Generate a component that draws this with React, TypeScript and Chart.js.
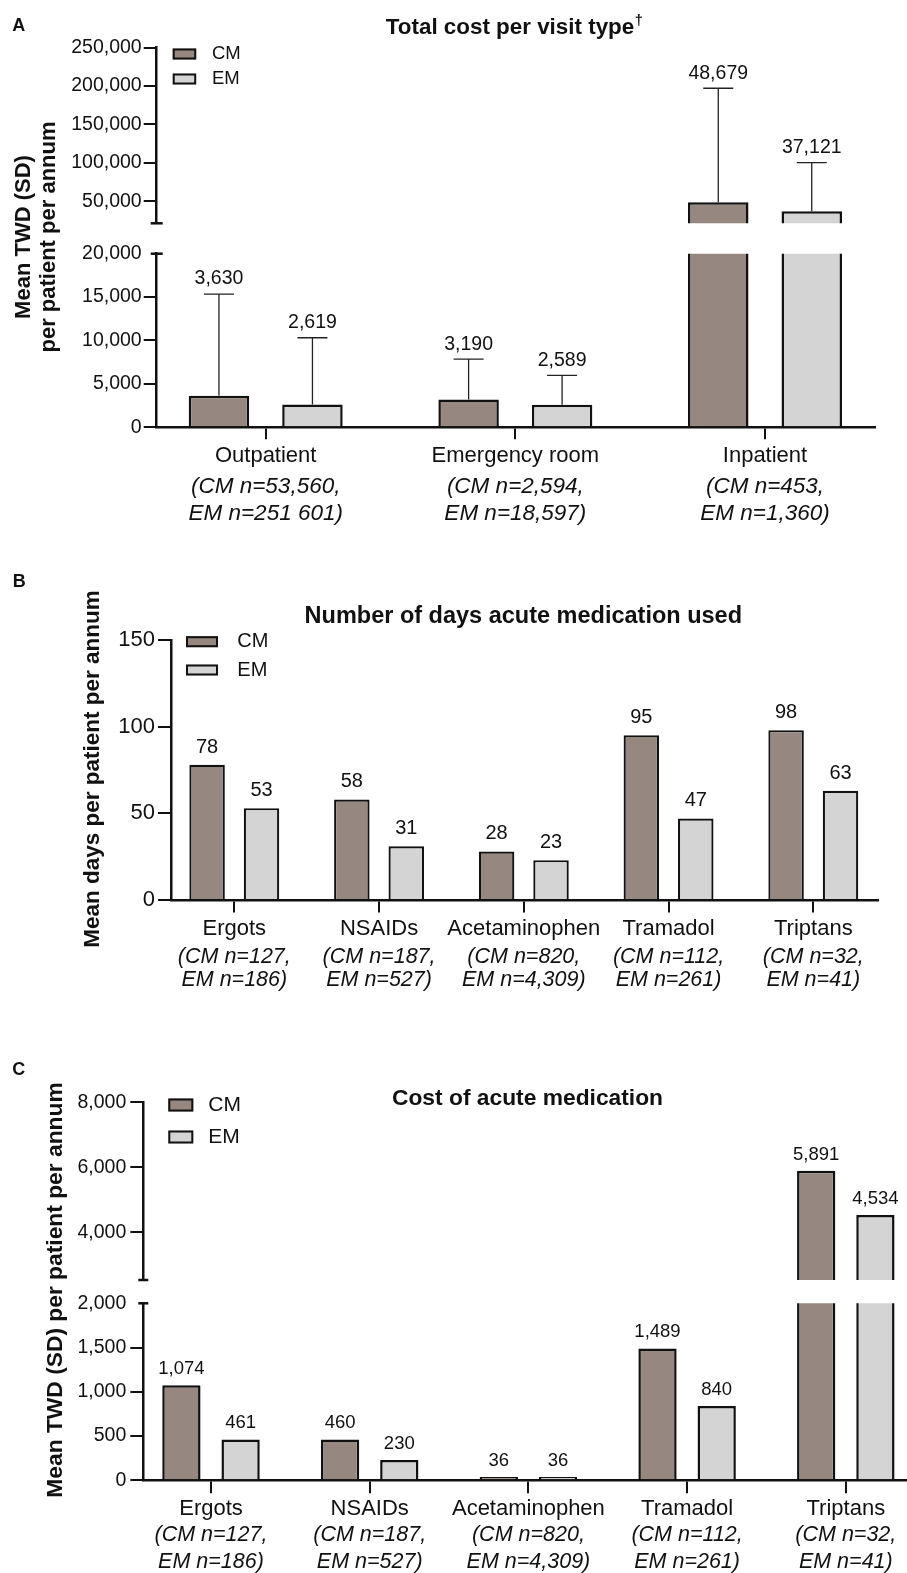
import React, { useEffect, useRef } from 'react';
import { Chart, registerables } from 'chart.js';

Chart.register(...registerables);

const FONT = "'Liberation Sans', Arial, Helvetica, sans-serif";
Chart.defaults.font.family = FONT;
Chart.defaults.color = '#111111';

const W = 907;
const H = 1573;
const INK = '#111111';
const CM_COLOR = '#968880';
const EM_COLOR = '#d4d4d4';

// ---------------- data ----------------
const seriesNames = ['CM', 'EM'];

// Panel A: total cost per visit type
const visitTypes = ['Outpatient', 'Emergency room', 'Inpatient'];
const visitN = [
  ['(CM n=53,560,', 'EM n=251 601)'],
  ['(CM n=2,594,', 'EM n=18,597)'],
  ['(CM n=453,', 'EM n=1,360)'],
];
const visitCostCM = [3630, 3190, 48679];
const visitCostEM = [2619, 2589, 37121];
const visitCostSdCM = [11720, 4660, 148500];
const visitCostSdEM = [7700, 3400, 63200];
const visitTicksLow = [0, 5000, 10000, 15000, 20000];
const visitTicksHigh = [50000, 100000, 150000, 200000, 250000];
const visitLowMax = 20000;
const visitHighRange = [21350, 250000];

// Panel B: number of days acute medication used
const medTypes = ['Ergots', 'NSAIDs', 'Acetaminophen', 'Tramadol', 'Triptans'];
const medN = [
  ['(CM n=127,', 'EM n=186)'],
  ['(CM n=187,', 'EM n=527)'],
  ['(CM n=820,', 'EM n=4,309)'],
  ['(CM n=112,', 'EM n=261)'],
  ['(CM n=32,', 'EM n=41)'],
];
const medDaysCM = [78, 58, 28, 95, 98];
const medDaysEM = [53, 31, 23, 47, 63];
const medDaysTicks = [0, 50, 100, 150];

// Panel C: cost of acute medication
const medCostCM = [1074, 460, 36, 1489, 5891];
const medCostEM = [461, 230, 36, 840, 4534];
const medCostTicksLow = [0, 500, 1000, 1500, 2000];
const medCostTicksHigh = [4000, 6000, 8000];
const medCostLowMax = 2000;
const medCostHighRange = [2530, 8000];

// ---------------- types ----------------
type Area = { l: number; r: number; t: number; b: number };
type TextItem = { text: string; x: number; y: number; size: number; bold?: boolean; rotate?: boolean; align?: CanvasTextAlign; sup?: string };
type Legend = { x: number; w: number; h: number; textX: number; ys: number[]; font: number };
type Decor = {
  errCap?: number;
  labelFont: number;
  labelOffset: number;
  capTop?: boolean;
  capBottom?: boolean;
  capHalf?: number;
  legend?: Legend;
  texts?: TextItem[];
};
type XSpec = {
  min: number; max: number; cats: string[]; n: string[][]; show: boolean;
  tl: number; pad: number; font: number; nFont: number; nLine: number; h1: number; h2: number;
};
type ChartSpec = {
  area: Area;
  yMin: number; yMax: number; yTicks: number[]; yFont: number; yPad: number;
  x: XSpec;
  cm: number[]; em: number[]; cmSd?: number[]; emSd?: number[];
  border: number; cp: number; bp: number;
  decor: Decor;
};

const fmt = (v: number) => v.toLocaleString('en-US');

function makeDecor(s: ChartSpec) {
  return {
    id: 'decor',
    afterDatasetsDraw(chart: any) {
      const ctx: CanvasRenderingContext2D = chart.ctx;
      const a = chart.chartArea;
      const ys = chart.scales.y;
      const d = s.decor;
      const vals = [s.cm, s.em];
      const sds = [s.cmSd, s.emSd];
      // error bars (upper side only)
      ctx.save();
      ctx.beginPath();
      ctx.rect(a.left, a.top - 1, a.right - a.left, a.bottom - a.top + 2);
      ctx.clip();
      ctx.strokeStyle = '#222222';
      ctx.lineWidth = 1.3;
      vals.forEach((arr, i) => {
        const sd = sds[i];
        if (!sd) return;
        const meta = chart.getDatasetMeta(i);
        meta.data.forEach((el: any, j: number) => {
          const py = ys.getPixelForValue(arr[j] + sd[j]);
          const cap = d.errCap || 15;
          ctx.beginPath();
          ctx.moveTo(el.x, el.y);
          ctx.lineTo(el.x, py);
          ctx.moveTo(el.x - cap, py);
          ctx.lineTo(el.x + cap, py);
          ctx.stroke();
        });
      });
      ctx.restore();
      // value labels
      ctx.save();
      ctx.fillStyle = INK;
      ctx.font = `${d.labelFont}px ${FONT}`;
      ctx.textAlign = 'center';
      ctx.textBaseline = 'middle';
      vals.forEach((arr, i) => {
        const sd = sds[i];
        const meta = chart.getDatasetMeta(i);
        meta.data.forEach((el: any, j: number) => {
          const anchor = ys.getPixelForValue(sd ? arr[j] + sd[j] : arr[j]);
          if (anchor < a.top - 2 || anchor > a.bottom + 2) return;
          ctx.fillText(fmt(arr[j]), el.x, anchor - d.labelOffset);
        });
      });
      ctx.restore();
    },
    afterDraw(chart: any) {
      const ctx: CanvasRenderingContext2D = chart.ctx;
      const a = chart.chartArea;
      const d = s.decor;
      ctx.save();
      ctx.strokeStyle = INK;
      ctx.lineWidth = 2.5;
      const ch = d.capHalf || 6;
      if (d.capTop) {
        ctx.beginPath();
        ctx.moveTo(a.left - ch, a.top);
        ctx.lineTo(a.left + ch, a.top);
        ctx.stroke();
      }
      if (d.capBottom) {
        ctx.beginPath();
        ctx.moveTo(a.left - ch, a.bottom);
        ctx.lineTo(a.left + ch, a.bottom);
        ctx.stroke();
      }
      ctx.restore();
      if (d.legend) {
        const L = d.legend;
        chart.data.datasets.forEach((ds: any, i: number) => {
          const cy = L.ys[i];
          ctx.save();
          ctx.fillStyle = ds.backgroundColor;
          ctx.fillRect(L.x, cy - L.h / 2, L.w, L.h);
          ctx.strokeStyle = INK;
          ctx.lineWidth = 2;
          ctx.strokeRect(L.x + 1, cy - L.h / 2 + 1, L.w - 2, L.h - 2);
          ctx.fillStyle = INK;
          ctx.font = `${L.font}px ${FONT}`;
          ctx.textAlign = 'left';
          ctx.textBaseline = 'middle';
          ctx.fillText(ds.label, L.textX, cy);
          ctx.restore();
        });
      }
      (d.texts || []).forEach((t) => {
        ctx.save();
        ctx.font = `${t.bold ? 'bold ' : ''}${t.size}px ${FONT}`;
        ctx.fillStyle = INK;
        ctx.textAlign = t.align || 'center';
        ctx.textBaseline = 'middle';
        ctx.translate(t.x, t.y);
        if (t.rotate) ctx.rotate(-Math.PI / 2);
        ctx.fillText(t.text, 0, 0);
        if (t.sup) {
          const w = ctx.measureText(t.text).width;
          ctx.font = `bold ${t.size * 0.65}px ${FONT}`;
          ctx.textAlign = 'left';
          ctx.fillText(t.sup, w / 2 + 0.5, -t.size * 0.33);
        }
        ctx.restore();
      });
    },
  };
}

function buildConfig(s: ChartSpec): any {
  const showX = s.x.show;
  const padBottom = showX ? H - s.area.b - s.x.h1 - s.x.h2 : H - s.area.b;
  const xTicks = (sc: any) => {
    sc.ticks = s.x.cats.map((_, i) => ({ value: i }));
  };
  const scales: any = {
    x: {
      type: 'linear',
      display: showX,
      position: 'bottom',
      weight: 0,
      min: s.x.min,
      max: s.x.max,
      bounds: 'data',
      offset: false,
      afterBuildTicks: xTicks,
      afterFit: (sc: any) => { sc.height = showX ? s.x.h1 : 0; },
      grid: { display: true, drawOnChartArea: false, drawTicks: true, tickLength: s.x.tl, color: INK, lineWidth: 2, offset: false },
      border: { display: true, color: INK, width: 2.5 },
      ticks: {
        autoSkip: false, maxRotation: 0, minRotation: 0, padding: s.x.pad, color: INK,
        font: { size: s.x.font, lineHeight: 1.2 },
        callback: (v: any) => s.x.cats[v] ?? '',
      },
    },
    y: {
      type: 'linear',
      position: 'left',
      min: s.yMin,
      max: s.yMax,
      bounds: 'data',
      afterBuildTicks: (sc: any) => { sc.ticks = s.yTicks.map((v) => ({ value: v })); },
      afterFit: (sc: any) => { sc.width = s.area.l; },
      grid: {
        display: true, drawOnChartArea: false, drawTicks: true, tickLength: 13, color: INK, lineWidth: 2,
        tickColor: (c: any) => (s.decor.capTop && c.tick && c.tick.value === s.yMax ? 'rgba(0,0,0,0)' : INK),
      },
      border: { display: true, color: INK, width: 2.5 },
      ticks: { padding: s.yPad, color: INK, font: { size: s.yFont }, callback: (v: any) => fmt(Number(v)) },
    },
  };
  if (showX) {
    scales.x2 = {
      type: 'linear',
      axis: 'x',
      position: 'bottom',
      weight: 1,
      min: s.x.min,
      max: s.x.max,
      bounds: 'data',
      offset: false,
      afterBuildTicks: xTicks,
      afterFit: (sc: any) => { sc.height = s.x.h2; },
      grid: { display: false, drawTicks: false, tickLength: 0, offset: false },
      border: { display: false },
      ticks: {
        autoSkip: false, maxRotation: 0, minRotation: 0, padding: 0, color: INK,
        font: { size: s.x.nFont, style: 'italic', lineHeight: s.x.nLine / s.x.nFont },
        callback: (v: any) => s.x.n[v] ?? '',
      },
    };
  }
  const mk = (label: string, vals: number[], color: string) => ({
    label,
    data: vals.map((v, i) => ({ x: i, y: v })),
    backgroundColor: color,
    borderColor: INK,
    borderWidth: s.border,
    categoryPercentage: s.cp,
    barPercentage: s.bp,
    clip: 0,
  });
  return {
    type: 'bar',
    data: {
      datasets: [mk(seriesNames[0], s.cm, CM_COLOR), mk(seriesNames[1], s.em, EM_COLOR)],
    },
    options: {
      responsive: false,
      animation: false,
      devicePixelRatio: 1,
      events: [],
      layout: { padding: { left: 0, right: W - s.area.r, top: s.area.t, bottom: padBottom } },
      plugins: { legend: { display: false }, tooltip: { enabled: false }, title: { display: false } },
      scales,
    },
    plugins: [makeDecor(s)],
  };
}

// ---------------- chart specs ----------------
const xA = (show: boolean): XSpec => ({
  min: -0.4366, max: 2.4406, cats: visitTypes, n: visitN, show,
  tl: 12, pad: 3.5, font: 22, nFont: 22.5, nLine: 27.3, h1: 45.75, h2: 60,
});
const xC = (show: boolean): XSpec => ({
  min: -0.4266, max: 4.3856, cats: medTypes, n: medN, show,
  tl: 13, pad: 2.8, font: 22, nFont: 21.5, nLine: 26.8, h1: 41.8, h2: 50.9,
});

const specs: ChartSpec[] = [
  // A lower
  {
    area: { l: 156.7, r: 875, t: 253.7, b: 427.3 },
    yMin: 0, yMax: visitLowMax, yTicks: visitTicksLow, yFont: 19.5, yPad: 2,
    x: xA(true),
    cm: visitCostCM, em: visitCostEM, cmSd: visitCostSdCM, emSd: visitCostSdEM,
    border: 2.5, cp: 0.749, bp: 0.647,
    decor: {
      errCap: 15, labelFont: 19.5, labelOffset: 15, capTop: true, capHalf: 6,
      texts: [
        { text: 'A', x: 12.3, y: 26.5, size: 18, bold: true, align: 'left' },
        { text: 'Total cost per visit type', x: 510, y: 28, size: 22.4, bold: true, sup: '\u2020' },
        { text: 'Mean TWD (SD)', x: 23.5, y: 237, size: 22, bold: true, rotate: true },
        { text: 'per patient per annum', x: 48.5, y: 237, size: 22, bold: true, rotate: true },
      ],
    },
  },
  // A upper
  {
    area: { l: 156.7, r: 875, t: 47.7, b: 223.3 },
    yMin: visitHighRange[0], yMax: visitHighRange[1], yTicks: visitTicksHigh, yFont: 19.5, yPad: 2,
    x: xA(false),
    cm: visitCostCM, em: visitCostEM, cmSd: visitCostSdCM, emSd: visitCostSdEM,
    border: 2.5, cp: 0.749, bp: 0.647,
    decor: {
      errCap: 15, labelFont: 19.5, labelOffset: 15, capBottom: true, capHalf: 6,
      legend: { x: 172.7, w: 23.5, h: 11, textX: 212, ys: [54, 79], font: 18.5 },
    },
  },
  // B
  {
    area: { l: 171, r: 877.7, t: 640, b: 900 },
    yMin: 0, yMax: 150, yTicks: medDaysTicks, yFont: 22, yPad: 3,
    x: {
      min: -0.4373, max: 4.4449, cats: medTypes, n: medN, show: true,
      tl: 12.5, pad: 3.3, font: 22, nFont: 21.5, nLine: 23, h1: 46, h2: 50,
    },
    cm: medDaysCM, em: medDaysEM,
    border: 2.2, cp: 0.752, bp: 0.652,
    decor: {
      labelFont: 20, labelOffset: 17.6,
      legend: { x: 186, w: 32, h: 11, textX: 237.3, ys: [641.7, 670], font: 20 },
      texts: [
        { text: 'B', x: 12.7, y: 581.7, size: 18, bold: true, align: 'left' },
        { text: 'Number of days acute medication used', x: 523.3, y: 616.7, size: 23.5, bold: true },
        { text: 'Mean days per patient per annum', x: 93, y: 769, size: 22.5, bold: true, rotate: true },
      ],
    },
  },
  // C lower
  {
    area: { l: 143.3, r: 907, t: 1303.3, b: 1480.3 },
    yMin: 0, yMax: medCostLowMax, yTicks: medCostTicksLow, yFont: 19.5, yPad: 4,
    x: xC(true),
    cm: medCostCM, em: medCostEM,
    border: 2.5, cp: 0.746, bp: 0.647,
    decor: {
      labelFont: 18.5, labelOffset: 16.3, capTop: true, capHalf: 5,
      texts: [
        { text: 'C', x: 12.3, y: 1070, size: 18, bold: true, align: 'left' },
        { text: 'Cost of acute medication', x: 527.5, y: 1098.3, size: 22.8, bold: true },
        { text: 'Mean TWD (SD) per patient per annum', x: 55.5, y: 1290, size: 22.8, bold: true, rotate: true },
      ],
    },
  },
  // C upper
  {
    area: { l: 143.3, r: 907, t: 1102.3, b: 1280 },
    yMin: medCostHighRange[0], yMax: medCostHighRange[1], yTicks: medCostTicksHigh, yFont: 19.5, yPad: 4,
    x: xC(false),
    cm: medCostCM, em: medCostEM,
    border: 2.5, cp: 0.746, bp: 0.647,
    decor: {
      labelFont: 18.5, labelOffset: 16.3, capBottom: true, capHalf: 5,
      legend: { x: 168.3, w: 25, h: 13, textX: 208.3, ys: [1105, 1137], font: 21 },
    },
  },
];

function ChartCanvas({ spec }: { spec: ChartSpec }) {
  const ref = useRef<HTMLCanvasElement>(null);
  useEffect(() => {
    if (!ref.current) return;
    const chart = new Chart(ref.current, buildConfig(spec));
    return () => chart.destroy();
  }, [spec]);
  return (
    <canvas
      ref={ref}
      width={W}
      height={H}
      style={{ position: 'absolute', left: 0, top: 0, width: W, height: H }}
    />
  );
}

export default function App() {
  return (
    <div style={{ position: 'absolute', left: 0, top: 0, width: W, height: H, overflow: 'hidden', background: '#ffffff' }}>
      {specs.map((s, i) => (
        <ChartCanvas key={i} spec={s} />
      ))}
    </div>
  );
}
